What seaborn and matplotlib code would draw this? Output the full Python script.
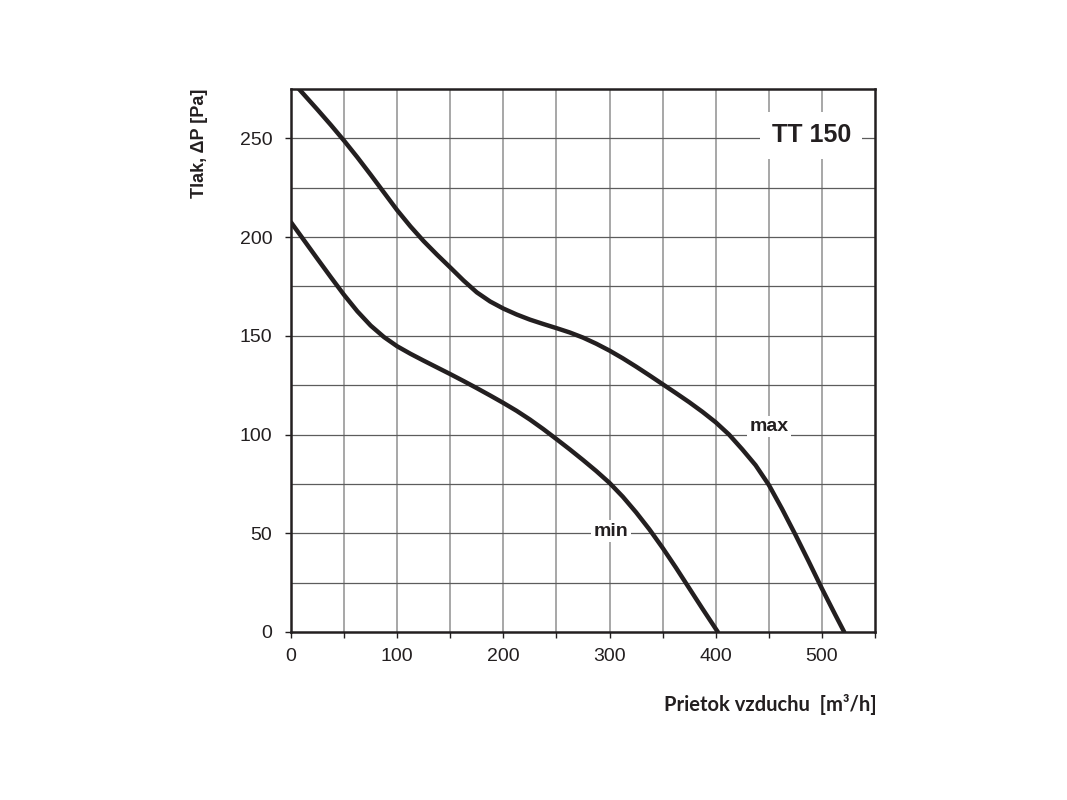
import numpy as np
import pandas as pd
import matplotlib
matplotlib.use('Agg')
import matplotlib.pyplot as plt
import seaborn as sns

# Curve readings (airflow m3/h, pressure Pa)
max_flow = [0, 12.5, 25, 37.5, 50, 62.5, 75, 87.5, 100, 112.5, 125, 137.5, 150, 162.5,
            175, 187.5, 200, 212.5, 225, 237.5, 250, 262.5, 275, 287.5, 300, 312.5,
            325, 337.5, 350, 362.5, 375, 387.5, 400, 412.5, 425, 437.5, 450, 462.5,
            475, 487.5, 500, 512.5, 521]
max_pressure = [279.5, 272, 264.5, 256.8, 248.8, 240.4, 231.6, 222.6, 213.6, 205.4, 197.9, 191.1,
                184.6, 178, 172, 167.4, 163.8, 160.8, 158.2, 156, 153.9, 151.7, 149.1, 146,
                142.5, 138.6, 134.4, 130, 125.5, 121, 116.4, 111.5, 106.2, 100, 92.5, 84.5,
                74.5, 62.3, 49.3, 35.8, 22, 8.8, 0]

min_flow = [0, 12.5, 25, 37.5, 50, 62.5, 75, 87.5, 100, 112.5, 125, 137.5, 150, 162.5,
            175, 187.5, 200, 212.5, 225, 237.5, 250, 262.5, 275, 287.5, 300, 312.5,
            325, 337.5, 350, 362.5, 375, 387.5, 402]
min_pressure = [207.5, 198.2, 188.9, 179.7, 170.7, 162.4, 155.2, 149.4, 144.7, 140.9, 137.4, 134,
                130.6, 127.1, 123.5, 119.8, 116, 112, 107.6, 102.8, 97.7, 92.5, 87.1, 81.5,
                75.5, 68.5, 60.6, 52, 42.6, 32.6, 22.2, 11.8, 0]

x_ticks = [0, 50, 100, 150, 200, 250, 300, 350, 400, 450, 500, 550]
x_labels = ['0', '', '100', '', '200', '', '300', '', '400', '', '500', '']
y_ticks = [0, 50, 100, 150, 200, 250]
y_minor = [25, 75, 125, 175, 225]

sns.set_theme(style='white')
plt.rcParams['font.family'] = ['Liberation Sans', 'DejaVu Sans']

ink = '#231f20'

fig = plt.figure(figsize=(10.67, 8), dpi=100)
ax = fig.add_axes([291 / 1067, 1 - 632 / 800, 584 / 1067, 543 / 800])
ax.set_facecolor('white')

df_max = pd.DataFrame({'flow': max_flow, 'pressure': max_pressure})
df_min = pd.DataFrame({'flow': min_flow, 'pressure': min_pressure})
sns.lineplot(data=df_max, x='flow', y='pressure', ax=ax, color=ink, linewidth=3.2,
             sort=False, zorder=3)
sns.lineplot(data=df_min, x='flow', y='pressure', ax=ax, color=ink, linewidth=3.2,
             sort=False, zorder=3)

ax.set_xlim(0, 550)
ax.set_ylim(0, 275)

# grid
for xv in x_ticks[1:-1]:
    ax.axvline(xv, color='#8f8f8f', linewidth=1.1, zorder=1)
for yv in y_ticks[1:] + y_minor:
    ax.axhline(yv, color='#5c5c5c', linewidth=0.9, zorder=1)

ax.set_xticks(x_ticks)
ax.set_xticklabels(x_labels)
ax.set_yticks(y_ticks)
ax.tick_params(axis='both', direction='out', length=4.5, width=1, color=ink,
               labelsize=14, labelcolor=ink, bottom=True, left=True, pad=7)
ax.tick_params(axis='y', pad=9)

for s in ax.spines.values():
    s.set_color(ink)
    s.set_linewidth(1.8)
    s.set_visible(True)

ax.set_ylabel('Tlak, ΔP [Pa]', fontsize=13, fontweight='bold', color=ink,
              loc='top', va='center')
ax.yaxis.set_label_coords(-0.156, 1.0)
ax.set_xlabel('Prietok vzduchu  [m³/h]', fontsize=14.5, fontweight='bold', color=ink,
              loc='right', va='center', family=['Lato', 'DejaVu Sans'])
ax.xaxis.set_label_coords(1.002, -0.133)

ax.text(490, 251.5, 'TT 150', ha='center', va='center', fontsize=18,
        fontweight='bold', color=ink, zorder=5,
        bbox=dict(boxstyle='square,pad=0.45', facecolor='white', edgecolor='none'))
ax.text(450, 104, 'max', ha='center', va='center', fontsize=14,
        fontweight='bold', color=ink, zorder=5,
        bbox=dict(boxstyle='square,pad=0.12', facecolor='white', edgecolor='none'))
ax.text(301.5, 51, 'min', ha='center', va='center', fontsize=14,
        fontweight='bold', color=ink, zorder=5,
        bbox=dict(boxstyle='square,pad=0.12', facecolor='white', edgecolor='none'))

fig.savefig('out.png', dpi=100, facecolor='white')
